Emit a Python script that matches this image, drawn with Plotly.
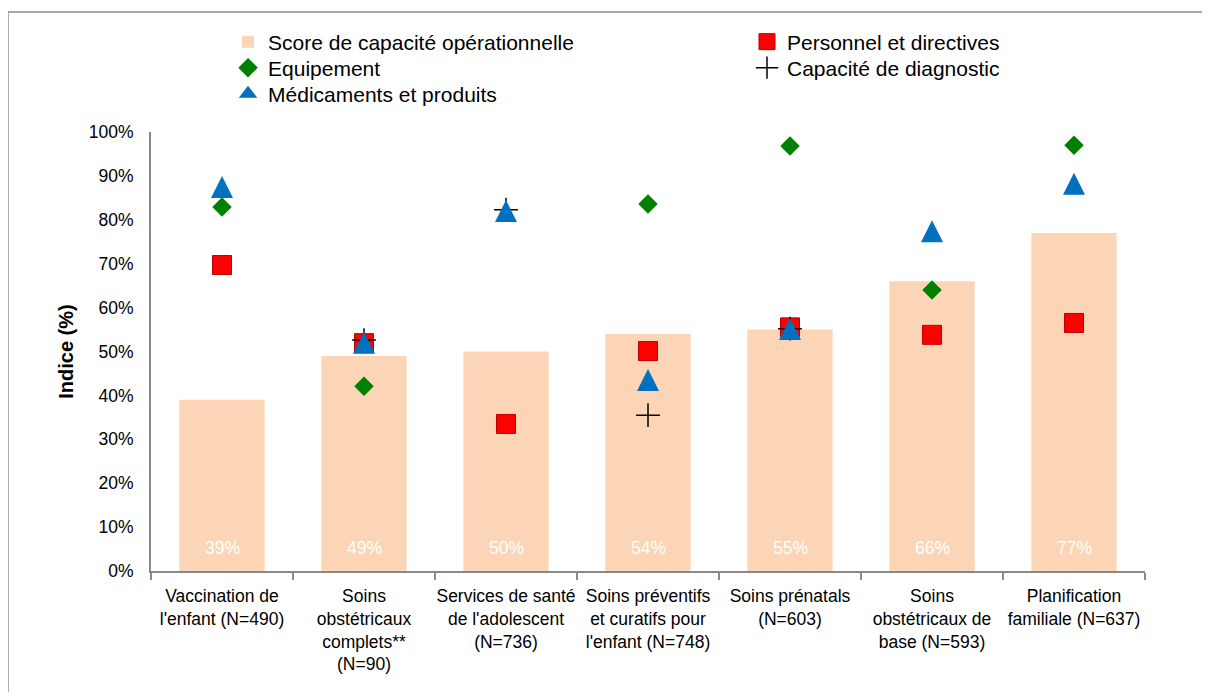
import plotly.graph_objects as go

categories = [
    "Vaccination de<br>l'enfant (N=490)",
    "Soins<br>obstétricaux<br>complets**<br>(N=90)",
    "Services de santé<br>de l'adolescent<br>(N=736)",
    "Soins préventifs<br>et curatifs pour<br>l'enfant (N=748)",
    "Soins prénatals<br>(N=603)",
    "Soins<br>obstétricaux de<br>base (N=593)",
    "Planification<br>familiale (N=637)",
]
score = [0.39, 0.49, 0.50, 0.54, 0.55, 0.66, 0.77]
score_labels = ["39%", "49%", "50%", "54%", "55%", "66%", "77%"]
personnel = [0.697, 0.519, 0.335, 0.501, 0.555, 0.538, 0.565]
equipement = [0.829, 0.421, None, 0.836, 0.968, 0.640, 0.970]
diagnostic = [None, 0.526, 0.823, 0.355, 0.552, None, None]
medicaments = [0.875, 0.520, 0.820, 0.435, 0.551, 0.774, 0.882]
y_ticks = [0, 0.1, 0.2, 0.3, 0.4, 0.5, 0.6, 0.7, 0.8, 0.9, 1.0]
y_ticklabels = ["0%", "10%", "20%", "30%", "40%", "50%", "60%", "70%", "80%", "90%", "100%"]

FONT = "Liberation Sans, Arial, sans-serif"
W, H = 1194, 684
ML, MR, MT, MB = 143, 57, 124, 121
PLOT_H = H - MT - MB
TRI = 22  # triangle marker size (px)

fig = go.Figure()
fig.add_trace(go.Bar(
    x=categories, y=score, name="Score de capacité opérationnelle",
    marker=dict(color="#FBD5B5", line=dict(width=0)), width=0.6,
    legend="legend",
))
fig.add_trace(go.Scatter(
    x=categories, y=personnel, mode="markers", name="Personnel et directives",
    marker=dict(symbol="square", size=19, color="#FF0000", line=dict(color="#C00000", width=1)),
    legend="legend2",
))
fig.add_trace(go.Scatter(
    x=categories, y=equipement, mode="markers", name="Equipement",
    marker=dict(symbol="diamond", size=15, color="#008000", line=dict(width=0)),
    legend="legend3",
))
fig.add_trace(go.Scatter(
    x=categories, y=diagnostic, mode="markers", name="Capacité de diagnostic",
    marker=dict(symbol="cross-thin-open", size=17, color="black", line=dict(color="black", width=1.5)),
    legend="legend4",
))
# triangles drawn as tip-anchored arrows on an overlay axis shifted by half the marker height
fig.add_trace(go.Scatter(
    x=categories, y=medicaments, mode="markers", name="Médicaments et produits",
    marker=dict(symbol="arrow-up", size=TRI, color="#0070C0", line=dict(width=0)),
    yaxis="y2", showlegend=False,
))
fig.add_trace(go.Scatter(
    x=[None], y=[None], mode="markers", name="Médicaments et produits",
    marker=dict(symbol="triangle-up", size=18, color="#0070C0", line=dict(width=0)),
    legend="legend5",
))

for cat, lab in zip(categories, score_labels):
    fig.add_annotation(x=cat, y=0, xref="x", yref="y", text=lab, showarrow=False,
                       yanchor="bottom", yshift=11,
                       font=dict(color="white", size=17.5, family=FONT))

# outer chart frame (only left and top edges fall inside the picture)
fig.add_shape(type="rect", xref="paper", yref="paper",
              x0=-0.1439, x1=1.09, y0=-0.30, y1=1.2733,
              line=dict(color="#8C8C8C", width=1.5), fillcolor="rgba(0,0,0,0)", layer="below")

col1, col2 = 0.0775, 0.5996
rows = [1.2050, 1.1458, 1.0866]
leg_common = dict(xanchor="left", yanchor="middle", orientation="v",
                  font=dict(size=21, family=FONT, color="black"),
                  bgcolor="rgba(0,0,0,0)", itemwidth=30)

fig.update_layout(
    width=W, height=H,
    margin=dict(l=ML, r=MR, t=MT, b=MB, autoexpand=False),
    paper_bgcolor="white", plot_bgcolor="white",
    font=dict(family=FONT, size=17.5, color="black"),
    showlegend=True,
    legend=dict(x=col1, y=rows[0], **leg_common),
    legend2=dict(x=col2, y=rows[0], **leg_common),
    legend3=dict(x=col1, y=rows[1], **leg_common),
    legend4=dict(x=col2, y=rows[1], **leg_common),
    legend5=dict(x=col1, y=rows[2], **leg_common),
    yaxis2=dict(overlaying="y", visible=False,
                range=[-(TRI / 2) / PLOT_H, 1.0 - (TRI / 2) / PLOT_H]),
)
fig.layout.xaxis.update(
    showline=True, linecolor="#898989", linewidth=2,
    ticks="outside", tickson="boundaries", ticklen=7, tickcolor="#898989", tickwidth=2,
    tickfont=dict(size=17.5, family=FONT), showgrid=False, zeroline=False,
    ticklabelstandoff=8, tickangle=0, automargin=False,
)
fig.layout.yaxis.update(
    range=[0, 1.0], tickvals=y_ticks, ticktext=y_ticklabels,
    showline=True, linecolor="#898989", linewidth=2, ticks="",
    tickfont=dict(size=17.5, family=FONT), showgrid=False, zeroline=False,
    ticklabelstandoff=12, automargin=False,
    title=dict(text="<b>Indice (%)</b>", font=dict(size=20, family=FONT), standoff=10),
)

fig.write_html("out.html")
